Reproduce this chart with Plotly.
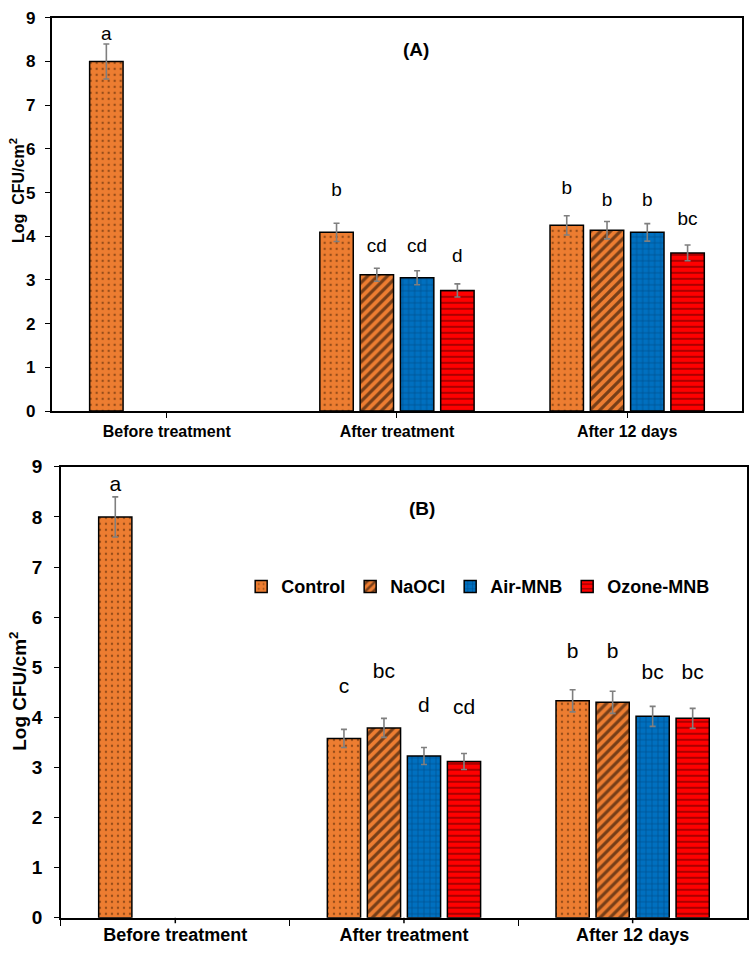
import plotly.graph_objects as go

# ---------------- data ----------------
categories = ["Before treatment", "After treatment", "After 12 days"]
series_names = ["Control", "NaOCl", "Air-MNB", "Ozone-MNB"]

# Panel A
A_control = [8.00, 4.09, 4.25]
A_control_err = [0.40, 0.21, 0.22]
A_naocl = [None, 3.12, 4.14]
A_naocl_err = [0, 0.15, 0.20]
A_air = [None, 3.05, 4.09]
A_air_err = [0, 0.16, 0.20]
A_ozone = [None, 2.76, 3.62]
A_ozone_err = [0, 0.15, 0.18]

A_control_let = ["a", "b", "b"]
A_control_let_y = [8.61, 5.03, 5.08]
A_naocl_let = [None, "cd", "b"]
A_naocl_let_y = [None, 3.76, 4.81]
A_air_let = [None, "cd", "b"]
A_air_let_y = [None, 3.76, 4.81]
A_ozone_let = [None, "d", "bc"]
A_ozone_let_y = [None, 3.51, 4.36]

# Panel B
B_control = [8.00, 3.58, 4.33]
B_control_err = [0.40, 0.18, 0.22]
B_naocl = [None, 3.79, 4.30]
B_naocl_err = [0, 0.19, 0.22]
B_air = [None, 3.23, 4.02]
B_air_err = [0, 0.17, 0.20]
B_ozone = [None, 3.12, 3.98]
B_ozone_err = [0, 0.16, 0.20]

B_control_let = ["a", "c", "b"]
B_control_let_y = [8.63, 4.60, 5.28]
B_naocl_let = [None, "bc", "b"]
B_naocl_let_y = [None, 4.89, 5.28]
B_air_let = [None, "d", "bc"]
B_air_let_y = [None, 4.21, 4.87]
B_ozone_let = [None, "cd", "bc"]
B_ozone_let_y = [None, 4.17, 4.87]

y_ticks = [0, 1, 2, 3, 4, 5, 6, 7, 8, 9]

# ---------------- styles ----------------
FONT = "Liberation Sans, Arial, sans-serif"
colors = ["#ED7D31", "#ED7D31", "#0070C0", "#FF0000"]
patterns = [
    dict(shape=".", fgcolor="#3b1a00", size=6, solidity=0.12),
    dict(shape="/", fgcolor="#000000", size=7, solidity=0.45),
    dict(shape="+", fgcolor="#00315c", size=6, solidity=0.22),
    dict(shape="-", fgcolor="#000000", size=6, solidity=0.22),
]

fig = go.Figure()

panelA = [(A_control, A_control_err), (A_naocl, A_naocl_err), (A_air, A_air_err), (A_ozone, A_ozone_err)]
panelB = [(B_control, B_control_err), (B_naocl, B_naocl_err), (B_air, B_air_err), (B_ozone, B_ozone_err)]
lettersA = [(A_control_let, A_control_let_y), (A_naocl_let, A_naocl_let_y), (A_air_let, A_air_let_y), (A_ozone_let, A_ozone_let_y)]
lettersB = [(B_control_let, B_control_let_y), (B_naocl_let, B_naocl_let_y), (B_air_let, B_air_let_y), (B_ozone_let, B_ozone_let_y)]

for panel, letters, xa, ya, show, fsize in [
    (panelA, lettersA, "x", "y", False, 19),
    (panelB, lettersB, "x2", "y2", True, 21),
]:
    for i, (vals, errs) in enumerate(panel):
        fig.add_trace(go.Bar(
            x=categories, y=vals, name=series_names[i],
            xaxis=xa, yaxis=ya, showlegend=show,
            offsetgroup=str(i), legendgroup=series_names[i],
            marker=dict(color=colors[i], line=dict(color="black", width=1.5),
                        pattern=patterns[i]),
            error_y=dict(type="data", array=errs, color="#7f7f7f", thickness=1.6, width=3),
        ))
    for i, (lets, ly) in enumerate(letters):
        fig.add_trace(go.Scatter(
            x=categories, y=ly, text=lets, mode="text",
            xaxis=xa, yaxis=ya, showlegend=False, offsetgroup=str(i),
            textposition="middle center",
            textfont=dict(family=FONT, size=fsize, color="black"),
            hoverinfo="skip",
        ))

axis_common = dict(showline=True, linecolor="black", linewidth=1.5, mirror=True,
                   showgrid=False, zeroline=False)

fig.update_layout(
    width=749, height=964,
    margin=dict(l=0, r=0, t=0, b=0),
    paper_bgcolor="white", plot_bgcolor="white",
    barmode="group", bargap=0.30, bargroupgap=0.17,
    scattermode="group", scattergap=0.30,
    font=dict(family=FONT, color="black"),
    xaxis=dict(domain=[0.069, 0.991], anchor="y", type="category",
               ticks="outside", ticklen=5, tickcolor="black",
               tickfont=dict(size=16, weight="bold"), **axis_common),
    yaxis=dict(domain=[0.5747, 0.9917], anchor="x", range=[0, 9],
               tickvals=y_ticks, ticks="outside", ticklen=5, tickcolor="black",
               ticklabelstandoff=6,
               tickfont=dict(size=17, weight="bold"), **axis_common),
    xaxis2=dict(domain=[0.0814, 0.9973], anchor="y2", type="category",
                ticks="outside", ticklen=6, tickcolor="black", tickson="boundaries",
                tickfont=dict(size=18, weight="bold"), **axis_common),
    yaxis2=dict(domain=[0.0373, 0.5156], anchor="x2", range=[0, 9],
                tickvals=y_ticks, ticks="outside", ticklen=5, tickcolor="black",
                ticklabelstandoff=8,
                tickfont=dict(size=19, weight="bold"), **axis_common),
    legend=dict(orientation="h", x=0.322, y=0.408, xanchor="left", yanchor="top",
                font=dict(size=18, weight="bold"), bgcolor="rgba(0,0,0,0)",
                traceorder="normal", itemwidth=30, tracegroupgap=0),
)

# center ticks on the bottom category axis
for c in categories:
    fig.add_shape(type="line", xref="x2", yref="y2 domain", x0=c, x1=c,
                  y0=0, y1=-0.012, line=dict(color="black", width=1.5))

# panel titles and axis titles
fig.add_annotation(text="(A)", xref="paper", yref="paper", x=0.555, y=1 - 40 / 964,
                   xanchor="center", yanchor="middle",
                   showarrow=False, font=dict(size=19, weight="bold"))
fig.add_annotation(text="(B)", xref="paper", yref="paper", x=0.563, y=1 - 510 / 964,
                   xanchor="center", yanchor="middle",
                   showarrow=False, font=dict(size=19, weight="bold"))
fig.add_annotation(text="Log  CFU/cm<sup>2</sup>", xref="paper", yref="paper",
                   x=17 / 749, y=1 - 185 / 964, xanchor="center", yanchor="middle",
                   textangle=-90, showarrow=False,
                   font=dict(size=16, weight="bold"))
fig.add_annotation(text="Log CFU/cm<sup>2</sup>", xref="paper", yref="paper",
                   x=18 / 749, y=1 - 697 / 964, xanchor="center", yanchor="middle",
                   textangle=-90, showarrow=False,
                   font=dict(size=19, weight="bold"))

fig.write_html("out.html")
